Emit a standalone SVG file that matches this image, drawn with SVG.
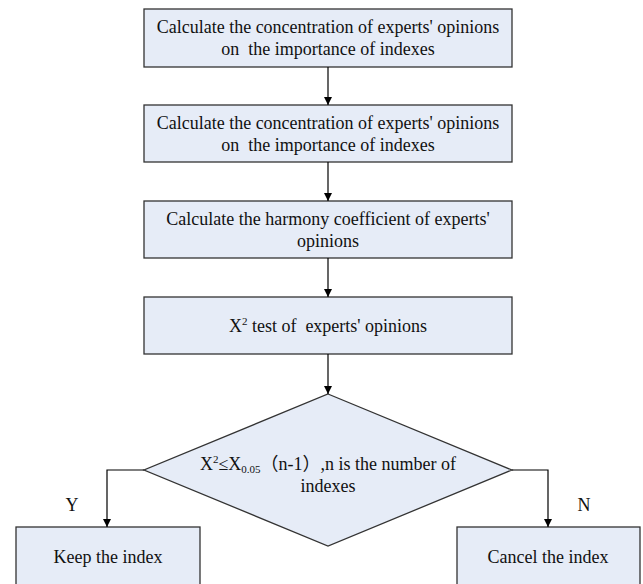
<svg xmlns="http://www.w3.org/2000/svg" width="643" height="584" viewBox="0 0 643 584">
<defs>
<marker id="arr" viewBox="0 0 10 10" refX="10" refY="5" markerWidth="8" markerHeight="10" markerUnits="userSpaceOnUse" orient="auto">
<path d="M0,0 L10,5 L0,10 z" fill="#000"/>
</marker>
<style>
.box{fill:#E6ECF7;stroke:#333;stroke-width:1.3}
.t{font-family:"Liberation Serif","Noto Sans CJK SC",serif;font-size:18px;fill:#111;text-anchor:middle}
.c{fill:none;stroke:#000;stroke-width:1.2;marker-end:url(#arr)}
</style>
</defs>
<rect width="643" height="584" fill="#fff"/>
<g id="n1"><rect class="box" x="144" y="9" width="368" height="58"/>
<text class="t" x="328" y="33">Calculate the concentration of experts' opinions</text>
<text class="t" x="328" y="55" xml:space="preserve">on  the importance of indexes</text></g>
<g id="n2"><rect class="box" x="144" y="105" width="368" height="57"/>
<text class="t" x="328" y="129">Calculate the concentration of experts' opinions</text>
<text class="t" x="328" y="151" xml:space="preserve">on  the importance of indexes</text></g>
<g id="n3"><rect class="box" x="144" y="201" width="368" height="57"/>
<text class="t" x="328" y="225">Calculate the harmony coefficient of experts'</text>
<text class="t" x="328" y="247">opinions</text></g>
<g id="n4"><rect class="box" x="144" y="297" width="368" height="57"/>
<text class="t" x="328" y="332" xml:space="preserve">X<tspan font-size="11" dy="-7">2</tspan><tspan dy="7"> test of  experts' opinions</tspan></text></g>
<g id="n5"><polygon class="box" points="328,394 512,470 328,546 144,470"/>
<text class="t" x="328" y="470">X<tspan font-size="11" dy="-7">2</tspan><tspan dy="7">≤X</tspan><tspan font-size="11" dy="3">0.05</tspan><tspan dy="-3">（n-1）,n is the number of</tspan></text>
<text class="t" x="328" y="492">indexes</text></g>
<g id="n6"><rect class="box" x="16" y="527" width="184" height="70"/>
<text class="t" x="108" y="563">Keep the index</text></g>
<g id="n7"><rect class="box" x="457" y="527" width="183" height="70"/>
<text class="t" x="548" y="563">Cancel the index</text></g>
<g id="connectors">
<line class="c" x1="328" y1="67" x2="328" y2="105"/>
<line class="c" x1="328" y1="162" x2="328" y2="201"/>
<line class="c" x1="328" y1="258" x2="328" y2="297"/>
<line class="c" x1="328" y1="354" x2="328" y2="394"/>
<polyline class="c" points="144,470 107,470 107,527"/>
<polyline class="c" points="512,470 548,470 548,527"/>
<text class="t" x="72" y="511">Y</text>
<text class="t" x="584" y="511">N</text>
</g>
</svg>
